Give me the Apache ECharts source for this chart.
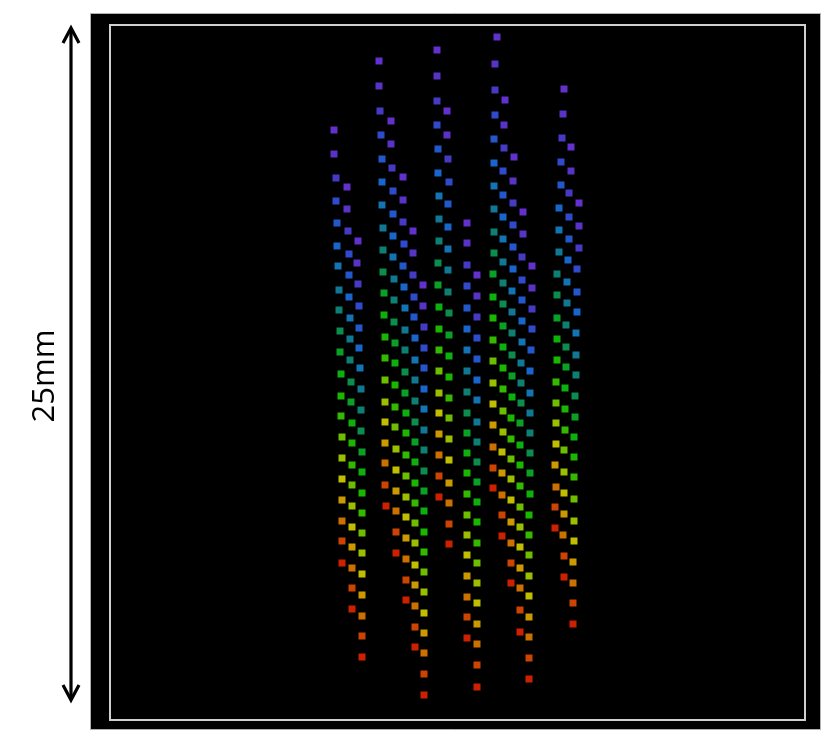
<!DOCTYPE html>
<html>
<head>
<meta charset="utf-8">
<script src="https://cdn.jsdelivr.net/npm/echarts@6/dist/echarts.min.js"></script>
<style>
html,body{margin:0;padding:0;background:#fff;}
#chart{width:830px;height:740px;}
</style>
</head>
<body>
<div id="chart"></div>
<script>
// Point columns (figure units, x right, y down), each column lists layers top -> bottom
const g1c0 = [[334,130],[334,154],[336,178],[336,201],[337,223],[337,246],[338,266],[339,290],[339,310],[340,331],[340,352],[341,374],[341,396],[341,416],[342,437],[342,458],[342,479],[342,500],[342,521],[342,541],[342,563]];
const g1c1 = [[347,187],[347,209],[348,231],[349,254],[349,275],[349,297],[350,318],[350,339],[350,360],[351,382],[351,402],[352,423],[352,443],[352,465],[352,485],[352,506],[352,527],[352,547],[352,568],[352,588],[352,609]];
const g1c2 = [[358,241],[357,263],[358,284],[359,306],[359,328],[359,348],[360,368],[361,389],[361,410],[361,431],[362,452],[362,472],[362,493],[362,513],[362,533],[362,553],[362,574],[362,595],[362,616],[362,636],[362,657]];
const g2c0 = [[379,61],[379,86],[380,111],[381,135],[382,159],[382,182],[382,205],[383,228],[383,250],[383,272],[384,293],[384,315],[385,337],[385,358],[385,380],[385,402],[385,422],[385,443],[385,463],[385,485],[386,506]];
const g2c1 = [[391,121],[391,144],[392,168],[393,191],[393,214],[393,236],[393,257],[394,279],[394,300],[394,322],[395,343],[395,363],[395,385],[395,407],[395,427],[396,449],[396,470],[396,491],[396,511],[396,532],[396,553]];
const g2c2 = [[403,177],[403,200],[403,222],[404,244],[403,266],[404,287],[405,308],[405,330],[405,350],[405,372],[405,393],[406,413],[406,433],[406,455],[406,476],[406,497],[406,517],[406,538],[406,559],[406,580],[406,600]];
const g2c3 = [[413,231],[413,253],[413,275],[414,297],[414,317],[415,338],[415,360],[415,380],[415,401],[415,422],[415,442],[415,462],[415,483],[415,503],[415,523],[415,543],[415,565],[415,585],[415,606],[415,627],[415,647]];
const g2c4 = [[423,285],[423,306],[424,327],[424,348],[424,368],[424,389],[424,409],[424,430],[424,450],[424,471],[424,491],[424,511],[424,532],[424,552],[424,572],[424,592],[424,613],[424,633],[424,653],[424,674],[424,695]];
const g3c0 = [[437,50],[437,76],[437,101],[437,125],[438,149],[438,173],[439,196],[439,219],[439,241],[438,263],[438,285],[439,307],[439,329],[439,350],[439,371],[439,393],[439,413],[439,434],[439,455],[439,476],[439,497]];
const g3c1 = [[447,111],[447,135],[448,159],[449,182],[448,204],[448,227],[448,249],[448,270],[448,292],[449,313],[449,335],[449,356],[449,377],[449,398],[449,418],[449,439],[449,460],[449,483],[449,503],[449,524],[449,544]];
const g3c3 = [[467,223],[467,243],[467,265],[467,286],[467,308],[467,329],[467,350],[467,371],[467,392],[467,413],[467,433],[467,453],[467,473],[467,494],[467,515],[467,535],[467,555],[467,576],[467,597],[467,617],[467,638]];
const g3c4 = [[477,275],[477,296],[477,317],[477,338],[477,359],[477,380],[477,400],[477,422],[477,442],[477,462],[477,482],[477,502],[477,522],[477,543],[477,563],[477,583],[477,603],[477,624],[477,644],[477,665],[477,687]];
const g4c0 = [[497,37],[495,64],[495,90],[495,115],[494,139],[494,163],[494,186],[494,209],[494,232],[494,253],[493,274],[493,297],[493,318],[493,340],[493,361],[493,383],[493,404],[493,425],[493,447],[493,468],[493,488]];
const g4c1 = [[505,100],[504,125],[504,148],[503,171],[503,195],[503,217],[503,239],[503,262],[503,283],[503,304],[503,326],[503,347],[503,368],[503,389],[503,411],[503,432],[502,452],[502,473],[502,495],[502,515],[502,536]];
const g4c2 = [[514,157],[513,181],[513,203],[513,225],[513,247],[513,269],[512,291],[512,312],[512,333],[512,355],[512,376],[512,397],[511,418],[511,439],[511,459],[511,479],[511,500],[511,522],[511,543],[511,563],[511,583]];
const g4c3 = [[523,212],[523,234],[522,257],[522,280],[522,300],[522,321],[522,342],[521,363],[521,383],[521,403],[520,423],[520,445],[520,465],[520,486],[520,507],[520,527],[520,547],[520,568],[520,588],[520,610],[520,632]];
const g4c4 = [[532,266],[532,288],[532,309],[532,329],[531,350],[530,371],[530,393],[530,413],[530,433],[530,453],[530,473],[530,494],[529,515],[529,535],[529,555],[529,576],[529,596],[529,617],[529,637],[529,658],[529,679]];
const g5c0 = [[564,89],[563,114],[562,138],[561,162],[561,185],[559,208],[559,230],[559,252],[557,274],[557,295],[557,318],[557,339],[557,360],[556,382],[556,403],[556,423],[556,444],[555,465],[556,487],[555,507],[555,528]];
const g5c1 = [[571,147],[571,171],[569,193],[569,217],[569,239],[568,260],[567,282],[567,303],[566,325],[566,347],[566,367],[565,388],[565,409],[565,430],[564,450],[564,472],[564,493],[564,514],[563,535],[564,556],[564,577]];
const g5c2 = [[579,203],[579,226],[579,248],[577,269],[577,292],[577,312],[576,333],[576,355],[576,375],[575,396],[575,417],[574,437],[574,457],[574,477],[574,499],[574,521],[574,541],[573,562],[573,583],[573,603],[573,624]];

const columns = [g1c0,g1c1,g1c2,g2c0,g2c1,g2c2,g2c3,g2c4,g3c0,g3c1,g3c3,g3c4,g4c0,g4c1,g4c2,g4c3,g4c4,g5c0,g5c1,g5c2];
const scaleLabel = '25mm';

const layerColors = ['#7a3cff','#6e40f8','#5848f5','#3c5cff','#2a6eff','#1e80ff','#1890e0','#1496b8','#12a090','#10b060','#0cc830','#10dc10','#20e400','#40e800','#88ec00','#c0ee00','#f0ee00','#ffc000','#ff8c00','#ff5500','#ff2800'];

const points = [];
columns.forEach(col => col.forEach((p, i) => points.push([p[0], p[1], i])));

const chart = echarts.init(document.getElementById('chart'), null, {renderer: 'canvas'});
chart.setOption({
  backgroundColor: '#ffffff',
  animation: false,
  grid: {left: 110, top: 25, right: 25, bottom: 20, show: true, borderColor: '#d0d0d0', borderWidth: 2, backgroundColor: 'transparent', z: 1},
  xAxis: {type: 'value', min: 110, max: 805, show: false},
  yAxis: {type: 'value', min: 25, max: 720, inverse: true, show: false},
  visualMap: {show: false, type: 'continuous', dimension: 2, min: 0, max: 20, inRange: {color: layerColors}},
  graphic: [
    {type: 'rect', z: -10, shape: {x: 90.5, y: 13.5, width: 730, height: 716}, style: {fill: '#000000', stroke: '#b0b0b0', lineWidth: 1}},
    {type: 'line', shape: {x1: 71, y1: 29, x2: 71, y2: 699}, style: {stroke: '#000', lineWidth: 3.2}},
    {type: 'polyline', shape: {points: [[63,43],[71,28],[79,43]]}, style: {stroke: '#000', lineWidth: 3.2, fill: null}},
    {type: 'polyline', shape: {points: [[63,685],[71,700],[79,685]]}, style: {stroke: '#000', lineWidth: 3.2, fill: null}},
    {type: 'text', x: 45, y: 376, rotation: Math.PI/2,
     style: {text: scaleLabel, font: '31px "Open Sans"', fill: '#000', textAlign: 'center', textVerticalAlign: 'middle'}}
  ],
  series: [{
    type: 'scatter',
    symbol: 'rect',
    symbolSize: 7,
    data: points,
    z: 5
  }]
});
</script>
</body>
</html>
